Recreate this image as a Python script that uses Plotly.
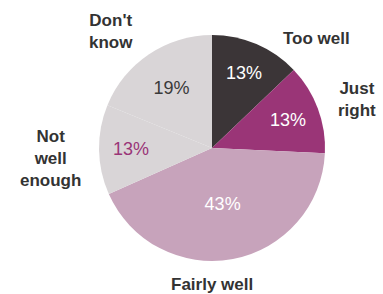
import plotly.graph_objects as go

categories = ["Too well", "Just right", "Fairly well", "Not well enough", "Don't know"]
values = [13, 13, 43, 13, 19]
pct_labels = ["13%", "13%", "43%", "13%", "19%"]
slice_colors = ["#3b3537", "#9a3577", "#c7a3bb", "#d9d5d7", "#d9d5d7"]
text_colors = ["#ffffff", "#ffffff", "#ffffff", "#9a3577", "#3a3a3a"]

# outside label text (line broken) and their pixel anchor points
outside_text = ["Too well", "Just<br>right", "Fairly well", "Not<br>well<br>enough", "Don't<br>know"]
outside_pos = [(316, 38), (357, 100), (212, 284), (50, 158), (111, 31)]

W, H = 383, 294
cx, cy, r = 212, 148, 113

fig = go.Figure(go.Pie(
    labels=categories,
    values=values,
    text=pct_labels,
    textinfo="text",
    textposition="inside",
    insidetextorientation="horizontal",
    sort=False,
    direction="clockwise",
    rotation=0,
    marker=dict(colors=slice_colors, line=dict(width=0)),
    textfont=dict(family="Liberation Sans", size=18, color=text_colors),
    domain=dict(x=[(cx - r) / W, (cx + r) / W], y=[(H - cy - r) / H, (H - cy + r) / H]),
    showlegend=False,
    hoverinfo="label+text",
))

for t, (px, py) in zip(outside_text, outside_pos):
    fig.add_annotation(
        x=px / W, y=1 - py / H, xref="paper", yref="paper",
        text="<b>" + t + "</b>", showarrow=False,
        font=dict(family="Liberation Sans", size=17, color="#333333"),
        align="center", xanchor="center", yanchor="middle",
    )

fig.update_layout(
    width=W, height=H,
    margin=dict(l=0, r=0, t=0, b=0),
    paper_bgcolor="white",
    plot_bgcolor="white",
    uniformtext=dict(minsize=10),
)

fig.write_html(
    "out.html",
    config={"displayModeBar": False},
    post_script="document.body.style.margin='0';document.body.style.overflow='hidden';",
)
